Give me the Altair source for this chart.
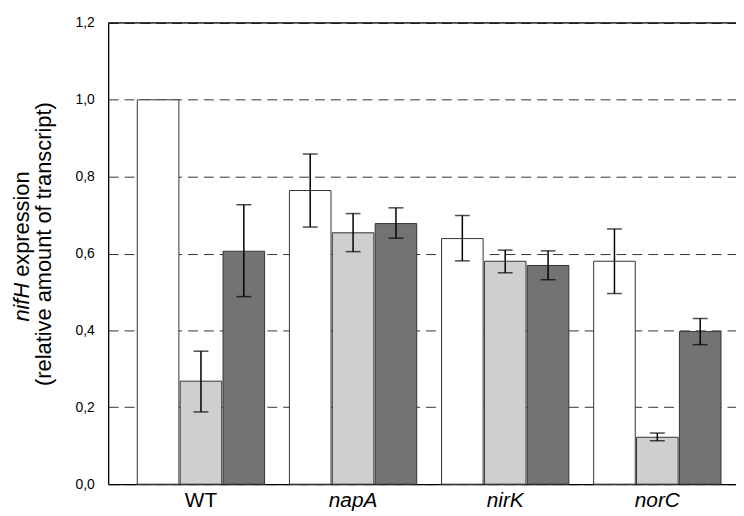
import altair as alt
import pandas as pd

groups = ["WT", "napA", "nirK", "norC"]
series = ["A", "B", "C"]
series_colors = ["#ffffff", "#cfcfcf", "#737373"]

mean_A = [1.0, 0.764, 0.639, 0.580]
mean_B = [0.268, 0.654, 0.580, 0.122]
mean_C = [0.606, 0.678, 0.569, 0.397]
lo_A = [None, 0.669, 0.581, 0.496]
hi_A = [None, 0.859, 0.699, 0.664]
lo_B = [0.188, 0.605, 0.550, 0.113]
hi_B = [0.346, 0.704, 0.609, 0.133]
lo_C = [0.488, 0.640, 0.532, 0.363]
hi_C = [0.727, 0.719, 0.607, 0.431]

y_ticks = [0.0, 0.2, 0.4, 0.6, 0.8, 1.0, 1.2]
title_italic = "nifH"
title_rest = "expression"
title_line2 = "(relative amount of transcript)"

rows = []
for s, m, lo, hi in zip(series, [mean_A, mean_B, mean_C], [lo_A, lo_B, lo_C], [hi_A, hi_B, hi_C]):
    for g, mv, l, h in zip(groups, m, lo, hi):
        rows.append({"group": g, "series": s, "mean": mv, "lo": l, "hi": h})
df = pd.DataFrame(rows)
err = df.dropna(subset=["lo"])

FONT = "Liberation Sans"

xscale = alt.Scale(domain=groups, paddingInner=0.163, paddingOuter=0.145, align=0.66, round=False)
xoff = alt.XOffset("series:N", scale=alt.Scale(domain=series, paddingInner=0.03, paddingOuter=0))
yscale = alt.Scale(domain=[0, 1.2], nice=False, zero=True)

xaxis = alt.Axis(
    title=None, ticks=False, labelAngle=0, labelFontSize=21, labelFont=FONT,
    labelColor="#000", labelPadding=6, domainColor="#000", domainWidth=1.3,
    labelFontStyle={"condition": {"test": "datum.value == 'WT'", "value": "normal"}, "value": "italic"},
)
yaxis = alt.Axis(
    title=None, values=y_ticks, ticks=False, labelFontSize=14, labelFont=FONT,
    labelColor="#000", labelPadding=14, domainColor="#000", domainWidth=1.3,
    labelExpr="replace(format(datum.value, '.1f'), '.', ',')",
    grid=True, gridColor="#333", gridWidth=1, gridDash=[10, 6],
)

bars = alt.Chart(df).mark_bar(stroke="#333", strokeWidth=1).encode(
    x=alt.X("group:N", scale=xscale, axis=xaxis, sort=groups),
    xOffset=xoff,
    y=alt.Y("mean:Q", scale=yscale, axis=yaxis),
    fill=alt.Fill("series:N", scale=alt.Scale(domain=series, range=series_colors), legend=None),
)

rules = alt.Chart(err).mark_rule(color="#000", strokeWidth=1.5).encode(
    x=alt.X("group:N", scale=xscale, sort=groups),
    xOffset=xoff,
    y=alt.Y("lo:Q", scale=yscale),
    y2="hi:Q",
)
caps_lo = alt.Chart(err).mark_tick(color="#000", orient="horizontal", size=15, thickness=1.5).encode(
    x=alt.X("group:N", scale=xscale, sort=groups),
    xOffset=xoff,
    y=alt.Y("lo:Q", scale=yscale),
)
caps_hi = alt.Chart(err).mark_tick(color="#000", orient="horizontal", size=15, thickness=1.5).encode(
    x=alt.X("group:N", scale=xscale, sort=groups),
    xOffset=xoff,
    y=alt.Y("hi:Q", scale=yscale),
)

top = alt.Chart(alt.Data(values=[{"v": 1.2}])).mark_rule(color="#000", strokeWidth=1.3).encode(
    y=alt.Y("v:Q", scale=yscale)
)

t1 = alt.Chart(alt.Data(values=[{"t": title_italic}])).mark_text(
    angle=270, align="right", baseline="middle", fontSize=22, font=FONT, fontStyle="italic", color="#000"
).encode(text="t:N", x=alt.value(-87), y=alt.value(262))
t2 = alt.Chart(alt.Data(values=[{"t": title_rest}])).mark_text(
    angle=270, align="left", baseline="middle", fontSize=22, font=FONT, color="#000"
).encode(text="t:N", x=alt.value(-87), y=alt.value(256))
t3 = alt.Chart(alt.Data(values=[{"t": title_line2}])).mark_text(
    angle=270, align="center", baseline="middle", fontSize=22, font=FONT, color="#000"
).encode(text="t:N", x=alt.value(-65), y=alt.value(223))

chart = alt.layer(bars, rules, caps_lo, caps_hi, top, t1, t2, t3).properties(
    width=633, height=465,
    autosize=alt.AutoSizeParams(type="none"),
    padding={"left": 101, "top": 13, "right": 0, "bottom": 28},
).configure_view(strokeWidth=0).configure(background="#ffffff")

chart.save("out.html", embed_options={"renderer": "svg", "actions": False})
